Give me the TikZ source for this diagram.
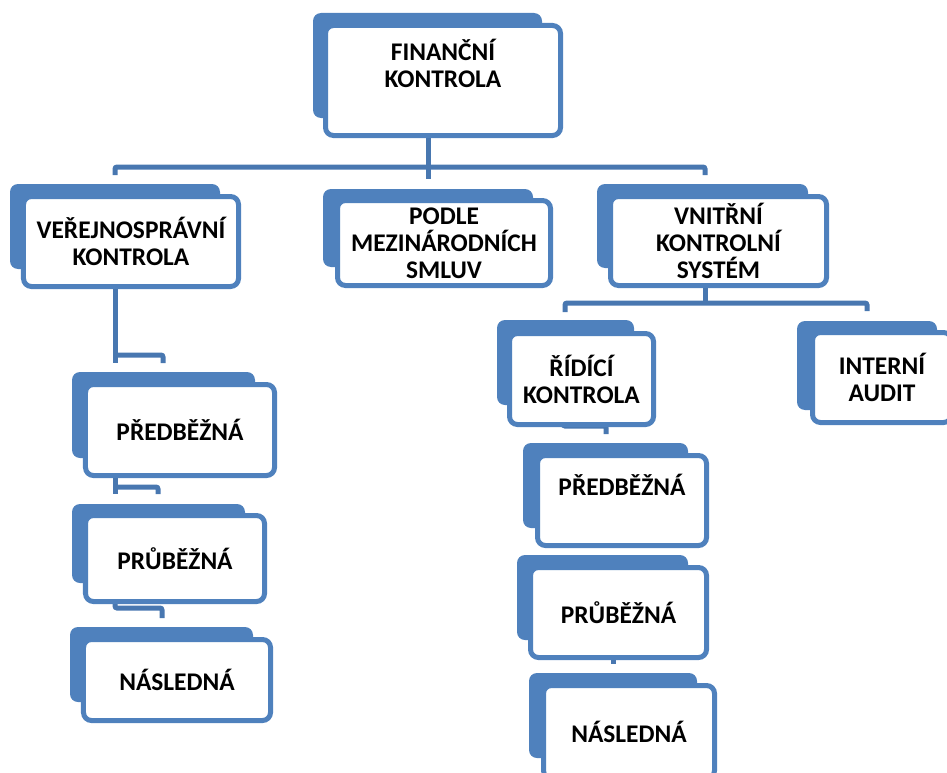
\documentclass[tikz,border=0pt]{standalone}
\usepackage{fontspec}
\setmainfont{Carlito}
\definecolor{boxblue}{HTML}{4F81BD}
\definecolor{lineblue}{HTML}{4877B0}
\pgfdeclarelayer{bg}
\pgfsetlayers{bg,main}
\begin{document}
\begin{tikzpicture}[x=1bp,y=-1bp,
  back/.style={fill=boxblue,rounded corners=8bp},
  txt/.style={align=center,inner sep=0pt,font=\fontsize{25.5}{27}\selectfont\bfseries},
  card/.style={txt,draw=boxblue,line width=5bp,fill=white,rounded corners=8bp},
  link/.style={draw=lineblue,line width=5bp,rounded corners=2bp},
  feed/.style={link,shorten >=19bp}]

\useasboundingbox (0,0) rectangle (947,773);

% top
\fill[back] (313,13) rectangle (542,118);
\node[card,minimum width=235bp,minimum height=110bp] (fin) at (443,80.5) {};
\node[txt] (fintxt) at ([yshift=17.5bp]fin.center) {FINANČNÍ\\KONTROLA};

% second row
\fill[back] (10,184) rectangle (220,269);
\node[card,minimum width=215bp,minimum height=90bp] (ver) at (131,241.5) {VEŘEJNOSPRÁVNÍ\\KONTROLA};

\fill[back] (323,189) rectangle (533,267);
\node[card,minimum width=213bp,minimum height=85bp] (podle) at (444,243) {PODLE\\MEZINÁRODNÍCH\\SMLUV};

\fill[back] (597,184) rectangle (808,268);
\node[card,minimum width=216bp,minimum height=89bp] (vnit) at (718.5,241) {VNITŘNÍ\\KONTROLNÍ\\SYSTÉM};

% left column
\fill[back] (72,372) rectangle (255,458);
\node[card,minimum width=189bp,minimum height=91bp] (lpre) at (180,430) {PŘEDBĚŽNÁ};

\fill[back] (72,504) rectangle (245,583);
\node[card,minimum width=179bp,minimum height=86bp] (lpru) at (175,558.5) {PRŮBĚŽNÁ};

\fill[back] (70,627) rectangle (253,702);
\node[card,minimum width=187bp,minimum height=81bp] (lnas) at (177,680) {NÁSLEDNÁ};

% right side
\fill[back] (497,320) rectangle (634,405);
\node[card,minimum width=144bp,minimum height=91bp] (ridi) at (581.5,379) {ŘÍDÍCÍ\\KONTROLA};

\fill[back] (797,321) rectangle (937,410);
\node[card,minimum width=139bp,minimum height=90bp] (audit) at (882,377.5) {INTERNÍ\\AUDIT};

\fill[back] (523,443) rectangle (688,528);
\node[card,minimum width=169bp,minimum height=90bp] (rpre) at (622,500.5) {};
\node[txt] (rpretxt) at ([yshift=15.5bp]rpre.center) {PŘEDBĚŽNÁ};

\fill[back] (517,555) rectangle (688,640);
\node[card,minimum width=176bp,minimum height=90bp] (rpru) at (618.5,612.5) {PRŮBĚŽNÁ};

\fill[back] (529,673) rectangle (697,758);
\node[card,minimum width=171bp,minimum height=93bp] (rnas) at (629,732) {NÁSLEDNÁ};

% connectors
\coordinate (hub) at (428,167);
\coordinate (busL) at (115,167);
\coordinate (busR) at (705,167);
\coordinate (k1) at (163,355);
\coordinate (k2) at (158,487);
\coordinate (k3) at (162,608);
\coordinate (hubR) at (705,303);
\coordinate (busRL) at (565,303);
\coordinate (busRR) at (867,303);
\coordinate (k7) at (606,426);
\coordinate (k8) at (613,0);

\begin{pgfonlayer}{bg}
\draw[feed] (hub |- fin.south) -- (hub |- podle.north);
\draw[feed,shorten <=19bp] (busL |- ver.north) -- (busL) -- (busR) -- (busR |- vnit.north);

\draw[feed] (busL |- ver.south) -- (busL |- lpre.north);
\draw[feed] (busL |- k1) -- (k1) -- (k1 |- lpre.north);
\draw[feed] (busL |- lpre.south) -- (busL |- lpru.north);
\draw[feed] (busL |- k2) -- (k2) -- (k2 |- lpru.north);
\draw[feed] (busL |- lpru.south) -- (busL |- k3) -- (k3) -- (k3 |- lnas.north);

\draw[link] (hubR |- vnit.south) -- (hubR);
\draw[feed,shorten <=19bp] (busRL |- ridi.north) -- (busRL) -- (busRR) -- (busRR |- audit.north);
\draw[feed] (ridi.center -| 563,0) -- (563,0 |- k7) -- (k7) -- (k7 |- rpre.north);
\draw[feed] (k8 |- rpru.south) -- (k8 |- rnas.north);
\end{pgfonlayer}

\end{tikzpicture}
\end{document}
